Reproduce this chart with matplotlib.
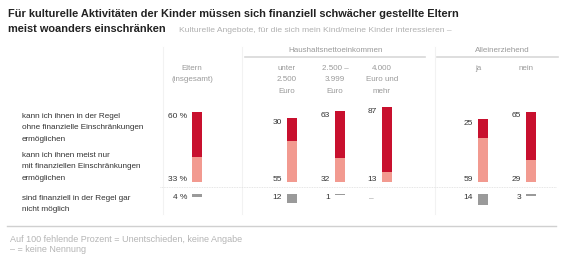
import matplotlib
matplotlib.use("Agg")
import matplotlib.pyplot as plt

# data
columns = ["Eltern\n(insgesamt)", "unter\n2.500\nEuro", "2.500 –\n3.999\nEuro",
           "4.000\nEuro und\nmehr", "ja", "nein"]
ohne = [60, 30, 63, 87, 25, 65]          # ohne finanzielle Einschränkungen
mit = [33, 55, 32, 13, 59, 29]           # meist nur mit Einschränkungen
gar_nicht = [4, 12, 1, None, 14, 3]      # gar nicht möglich (None = keine Nennung)
row_labels = ["kann ich ihnen in der Regel\nohne finanzielle Einschränkungen\nermöglichen",
              "kann ich ihnen meist nur\nmit finanziellen Einschränkungen\nermöglichen",
              "sind finanziell in der Regel gar\nnicht möglich"]
groups = [("Haushaltsnettoeinkommen", 336, 245, 425), ("Alleinerziehend", 502, 437, 558)]

title1 = "Für kulturelle Aktivitäten der Kinder müssen sich finanziell schwächer gestellte Eltern"
title2 = "meist woanders einschränken"
subtitle = "Kulturelle Angebote, für die sich mein Kind/meine Kinder interessieren –"
notes = ["Auf 100 fehlende Prozent = Unentschieden, keine Angabe", "– = keine Nennung"]

# layout (pixels)
W, H = 561, 255
BAR_X = [197, 292, 340, 387, 483, 531]
BAR_W = 10
BASE_PX, PX_PER_PCT = 183, 0.75
AX_TOP, AX_BOT = 100, 215
THIRD_TOP = -16
DARK, LIGHT, GREY = "#c8102e", "#f29a90", "#9a9a9a"
TXT, LGREY = "#333333", "#9a9a9a"
FONT = "Liberation Sans"

fig = plt.figure(figsize=(W / 100, H / 100), dpi=100)

# overlay in pixel coordinates for texts and rules
ov = fig.add_axes([0, 0, 1, 1])
ov.set_xlim(0, W)
ov.set_ylim(H, 0)
ov.axis("off")

# bar axes: y in percent, 0 at BASE_PX
ax = fig.add_axes([0, (H - AX_BOT) / H, 1, (AX_BOT - AX_TOP) / H])
ax.set_xlim(0, W)
ax.set_ylim(-(AX_BOT - BASE_PX) / PX_PER_PCT, (BASE_PX - AX_TOP) / PX_PER_PCT)
ax.axis("off")

ax.bar(BAR_X, mit, width=BAR_W, color=LIGHT, zorder=3)
ax.bar(BAR_X, ohne, bottom=mit, width=BAR_W, color=DARK, zorder=3)
for i, (x, o, m, g) in enumerate(zip(BAR_X, ohne, mit, gar_nicht)):
    suf = " %" if i == 0 else ""
    lx = x - BAR_W / 2 - 5
    ax.text(lx, o + m, f"{o}{suf}", ha="right", va="top", fontsize=6,
            color=TXT, family=FONT)
    ax.text(lx, 0, f"{m}{suf}", ha="right", va="bottom", fontsize=6,
            color=TXT, family=FONT)
    if g is None:
        ax.text(lx - 3, THIRD_TOP, "–", ha="right", va="top", fontsize=6,
                color=LGREY, family=FONT)
    else:
        ax.bar(x, -g, bottom=THIRD_TOP, width=BAR_W, color=GREY, zorder=3)
        ax.text(lx, THIRD_TOP + 1, f"{g}{suf}", ha="right", va="top", fontsize=6,
                color=TXT, family=FONT)

# title
ov.text(8, 14, title1, ha="left", va="center", fontsize=7.9, fontweight="bold",
        color="#222222", family=FONT)
ov.text(8, 29, title2, ha="left", va="center", fontsize=7.9, fontweight="bold",
        color="#222222", family=FONT)
ov.text(179, 30, subtitle, ha="left", va="center", fontsize=6.1,
        color="#b0b0b0", family=FONT)

# column headers
for x, lab in zip(BAR_X, columns):
    ov.text(x - 5, 65, lab, ha="center", va="top", fontsize=5.8, color=LGREY,
            family=FONT, linespacing=1.9)
for name, cx, x0, x1 in groups:
    ov.text(cx, 51, name, ha="center", va="center", fontsize=5.8, color=LGREY,
            family=FONT)
    ov.plot([x0, x1], [58, 58], color="#d8d8d8", lw=1.2)

# faint column separators
for x in [163, 242, 435]:
    ov.plot([x, x], [48, 215], color="#f2f2f2", lw=0.8, zorder=0)

# row labels
for y, lab in zip([113, 152, 195], row_labels):
    ov.text(22, y, lab, ha="left", va="top", fontsize=5.9,
            color=TXT, family=FONT, linespacing=1.9)

# rules
ov.plot([160, 556], [188, 188], color="#dddddd", lw=0.6, ls=(0, (1, 1)))
ov.plot([7, 556], [227, 227], color="#d0d0d0", lw=1.0)

# footnotes
ov.text(10, 240, notes[0], ha="left", va="center", fontsize=6.5, color="#b5b5b5", family=FONT)
ov.text(10, 250, notes[1], ha="left", va="center", fontsize=6.5, color="#b5b5b5", family=FONT)

fig.savefig("out.png", dpi=100)
